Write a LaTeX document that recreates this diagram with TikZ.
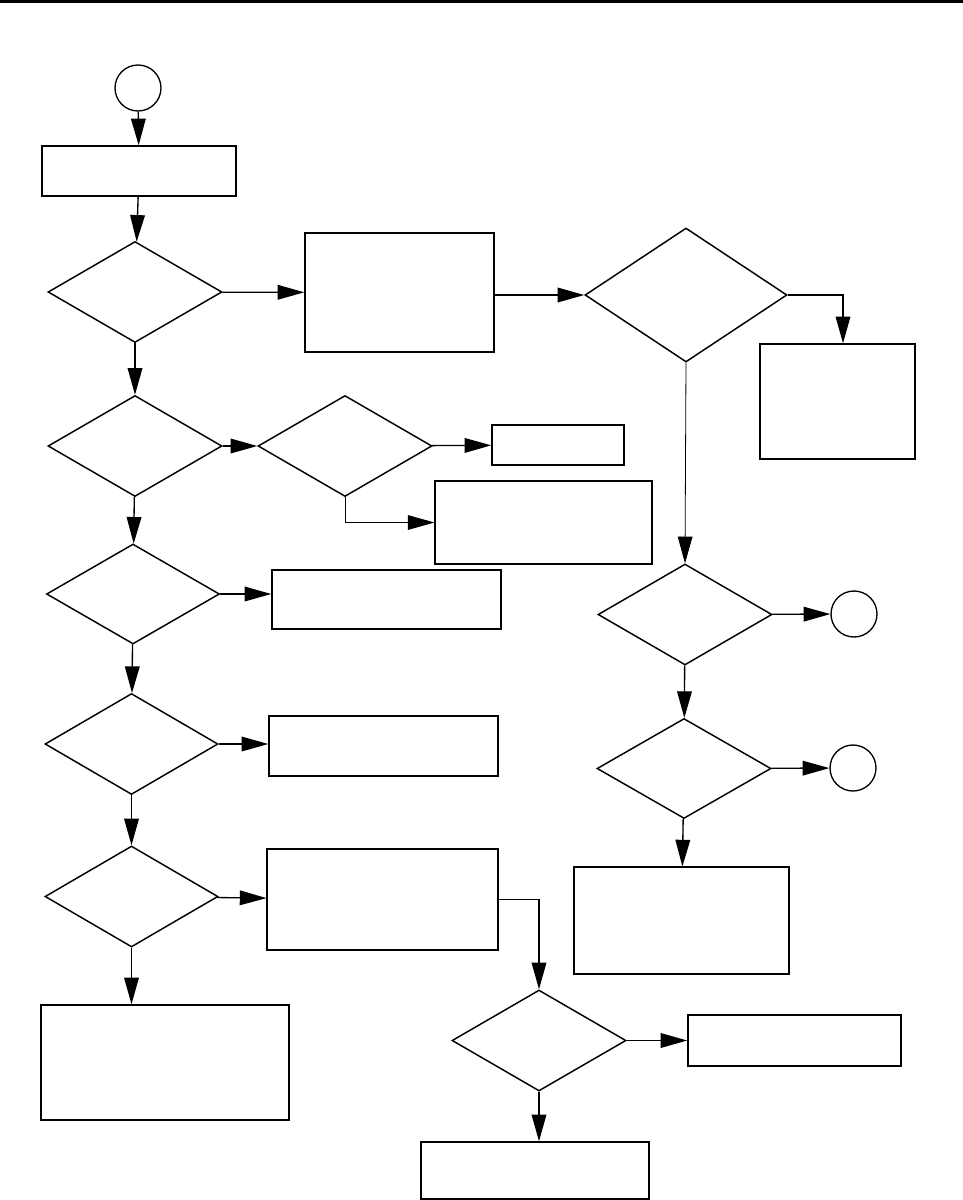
\documentclass[tikz,border=0pt]{standalone}
\usetikzlibrary{arrows.meta,shapes.geometric}
\begin{document}
\begin{tikzpicture}[x=0.75pt, y=-0.75pt,
  box/.style 2 args={draw, line width=1.1pt, inner sep=0pt, minimum width=#1*0.75pt, minimum height=#2*0.75pt},
  decision/.style 2 args={shape=diamond, draw, line width=1.1pt, inner sep=0pt, minimum width=#1*0.75pt, minimum height=#2*0.75pt},
  connector/.style={shape=circle, draw, line width=1pt, inner sep=0pt, minimum size=34.5pt},
  arr/.style={-{Triangle[length=20pt, width=11pt]}, line width=1pt},
  thinarr/.style={arr, line width=0.6pt}]
\useasboundingbox (0,0) rectangle (963,1200);
\draw[line width=2.25pt] (0,1.5) -- (963,1.5);
\node[connector] (start) at (138,88) {};
\node[box={194}{50}] (b1) at (139,171) {};
\node[decision={174}{101}] (d1) at (135,292) {};
\node[box={189}{119}] (b2) at (399.5,292.5) {};
\node[decision={202}{134}] (d4) at (686,295) {};
\node[box={155}{115}] (b5) at (837.5,401.5) {};
\node[decision={174}{101}] (d2) at (135,446) {};
\node[decision={174}{101}] (d3) at (345,446) {};
\node[box={132}{40}] (b3) at (558,445) {};
\node[box={217}{83}, line width=0.8pt] (b4) at (543.5,522.5) {};
\node[decision={173}{100}] (d7) at (133,594) {};
\node[box={229}{59}] (b7) at (386.5,599.5) {};
\node[decision={173}{101}] (d8) at (131.5,744) {};
\node[box={229}{60}] (b8) at (383.5,746) {};
\node[decision={173}{101}] (d9) at (131.5,896.5) {};
\node[box={231}{101}, line width=0.8pt] (b9) at (382.5,899.5) {};
\node[box={248}{115}] (b10) at (165,1062.5) {};
\node[decision={174}{101}] (d5) at (685,614.5) {};
\node[connector] (c2) at (854,614) {};
\node[decision={174}{100}] (d6) at (684,768.5) {};
\node[connector] (c3) at (853,768) {};
\node[box={215}{107}, line width=0.8pt] (b6) at (681.5,920.5) {};
\node[decision={174}{101}] (d10) at (539,1040.5) {};
\node[box={213}{51}] (b11) at (794.5,1040.5) {};
\node[box={228}{57}] (b12) at (535,1170.5) {};
\path [arr] (start) edge (b1);
\path [arr] (b1) edge (d1);
\path [arr] (d1) edge (b2);
\path [arr] (d4.west -| b2.east) edge (d4.west);
\draw [arr] (d4.east) -| (843,0 |- b5.north);
\path [thinarr] (d4.south) edge (d5.north);
\path [arr] (d1) edge (d2);
\path [arr] (d2) edge (d3);
\path [arr] (d3) edge (b3);
\draw [thinarr] (d3.south) |- (b4.west);
\path [arr] (d2) edge (d7);
\path [arr] (d7.east) edge (d7.east -| b7.west);
\path [arr] (d7) edge (d8);
\path [arr] (d8.east) edge (d8.east -| b8.west);
\path [arr] (d8) edge (d9);
\path [arr] (d9) edge (b9);
\path [arr] (d9.south) edge (d9.south |- b10.north);
\draw [arr] (b9.east) -| (d10.north);
\path [arr] (d10) edge (b11);
\path [arr] (d10.south) edge (d10.south |- b12.north);
\path [arr] (d5) edge (c2);
\path [arr] (d5) edge (d6);
\path [arr] (d6) edge (c3);
\path [arr] (d6) edge (b6);
\end{tikzpicture}
\end{document}
